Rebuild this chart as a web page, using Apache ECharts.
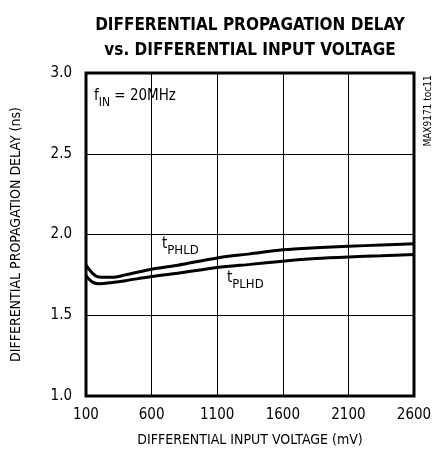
<!DOCTYPE html>
<html><head><meta charset="utf-8">
<script src="https://cdn.jsdelivr.net/npm/echarts@6/dist/echarts.min.js"></script>
<style>html,body{margin:0;padding:0;background:#fff}#c{width:442px;height:455px}</style>
</head><body><div id="c"></div>
<script>
const voltage = [100, 150, 200, 300, 400, 600, 800, 1100, 1350, 1600, 1850, 2100, 2350, 2600];
const tPHLD = [1.81, 1.76, 1.737, 1.735, 1.75, 1.785, 1.81, 1.855, 1.88, 1.905, 1.918, 1.927, 1.935, 1.942];
const tPLHD = [1.745, 1.705, 1.695, 1.703, 1.714, 1.74, 1.76, 1.795, 1.815, 1.835, 1.851, 1.861, 1.868, 1.876];
const xTicks = [100, 600, 1100, 1600, 2100, 2600];
const yTicks = [1.0, 1.5, 2.0, 2.5, 3.0];

const FONT = '"Liberation Sans Narrow", "DejaVu Sans Condensed", "Roboto Condensed", sans-serif';
const chart = echarts.init(document.getElementById('c'));
const pair = a => voltage.map((v, i) => [v, a[i]]);
const sub = (main, s, size, tail) => ({
  text: '{m|' + main + '}{s|' + s + '}' + (tail ? '{m|' + tail + '}' : ''),
  rich: {
    m: { fontFamily: FONT, fontSize: 15, fill: '#000', verticalAlign: 'top', lineHeight: 20 },
    s: { fontFamily: FONT, fontSize: size, fill: '#000', verticalAlign: 'bottom', lineHeight: 20, padding: [3, 0, 0, 0] }
  }
});
chart.setOption({
  animation: false,
  textStyle: { fontFamily: FONT },
  title: {
    text: 'DIFFERENTIAL PROPAGATION DELAY\nvs. DIFFERENTIAL INPUT VOLTAGE',
    left: 245, top: 8, textAlign: 'center',
    textStyle: { fontFamily: FONT, fontSize: 17, fontWeight: 'bold', color: '#000', lineHeight: 25 }
  },
  grid: { left: 86, right: 28, top: 73, bottom: 59, show: true, borderColor: '#000', borderWidth: 3 },
  xAxis: {
    type: 'value', min: xTicks[0], max: xTicks[xTicks.length - 1], interval: 500,
    name: 'DIFFERENTIAL INPUT VOLTAGE (mV)', nameLocation: 'middle', nameGap: 37,
    nameTextStyle: { fontFamily: FONT, fontSize: 14, color: '#000' },
    axisLine: { show: false }, axisTick: { show: false },
    axisLabel: { fontFamily: FONT, fontSize: 15, color: '#000', margin: 12, formatter: v => String(v) },
    splitLine: { lineStyle: { color: '#000', width: 1 } }
  },
  yAxis: {
    type: 'value', min: yTicks[0], max: yTicks[yTicks.length - 1], interval: 0.5,
    name: 'DIFFERENTIAL PROPAGATION DELAY (ns)', nameLocation: 'middle', nameGap: 63,
    nameTextStyle: { fontFamily: FONT, fontSize: 14, color: '#000' },
    axisLine: { show: false }, axisTick: { show: false },
    axisLabel: { fontFamily: FONT, fontSize: 15, color: '#000', margin: 14, formatter: v => v.toFixed(1) },
    splitLine: { lineStyle: { color: '#000', width: 1 } }
  },
  series: [
    { name: 'tPHLD', type: 'line', data: pair(tPHLD), smooth: 0.3, symbol: 'none', lineStyle: { color: '#000', width: 3 } },
    { name: 'tPLHD', type: 'line', data: pair(tPLHD), smooth: 0.3, symbol: 'none', lineStyle: { color: '#000', width: 3 } }
  ],
  graphic: [
    { type: 'text', left: 94, top: 89, style: sub('f', 'IN', 12, ' = 20MHz') },
    { type: 'text', left: 162, top: 237, style: sub('t', 'PHLD', 13) },
    { type: 'text', left: 227, top: 271, style: sub('t', 'PLHD', 13) },
    { type: 'text', x: 428, y: 111, rotation: Math.PI / 2, style: { text: 'MAX9171 toc11', fontFamily: FONT, fontSize: 10, fill: '#000', align: 'center', verticalAlign: 'middle' } }
  ]
});
</script></body></html>
